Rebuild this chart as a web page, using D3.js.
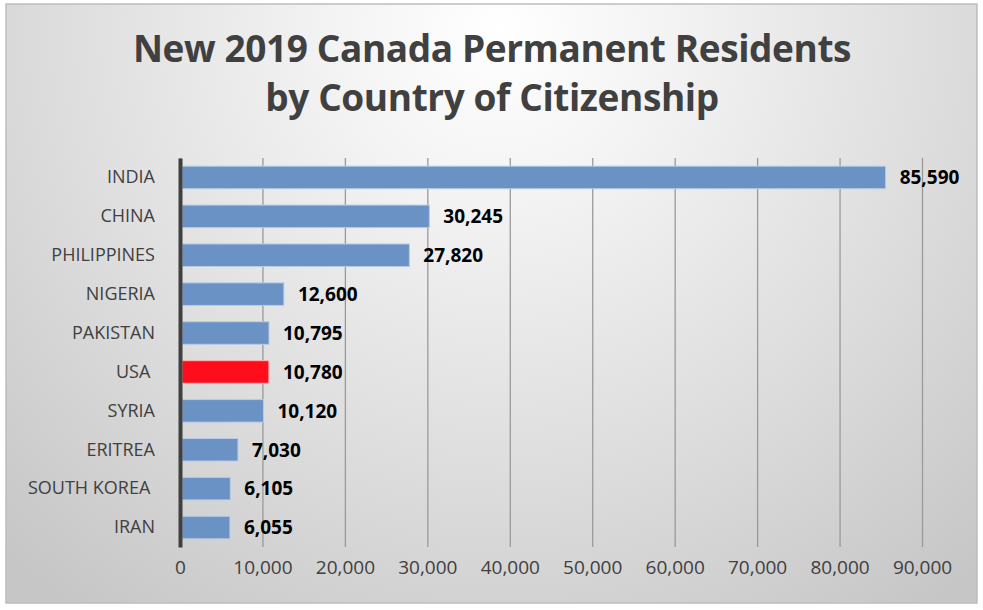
<!DOCTYPE html>
<html>
<head>
<meta charset="utf-8">
<script src="https://cdn.jsdelivr.net/npm/d3@7"></script>
<style>
  body { margin: 0; background: #fff; }
  svg text { font-family: "Open Sans", sans-serif; }
</style>
</head>
<body>
<svg id="chart"></svg>
<script>
// Data
const countries = ['INDIA', 'CHINA', 'PHILIPPINES', 'NIGERIA', 'PAKISTAN', 'USA ', 'SYRIA', 'ERITREA', 'SOUTH KOREA ', 'IRAN'];
const residents = [85590, 30245, 27820, 12600, 10795, 10780, 10120, 7030, 6105, 6055];
const highlighted = ['USA '];
const xTicks = [0, 10000, 20000, 30000, 40000, 50000, 60000, 70000, 80000, 90000];
const titleLines = ['New 2019 Canada Permanent Residents', 'by Country of Citizenship'];

function drawChart() {
    // Graph constants
    const width = 983;
    const height = 610;
    const box = { x: 6, y: 4, w: 971, h: 599 };
    const margin = { top: 158, right: 61, bottom: 63, left: 180 };
    const data = countries.map((c, i) => ({ country: c, value: residents[i] }));

    const xScale = d3.scaleLinear()
        .domain([0, 90000])
        .range([margin.left, width - margin.right]);
    const yScale = d3.scaleBand()
        .domain(countries)
        .range([margin.top, height - margin.bottom])
        .paddingInner(0.42)
        .paddingOuter(0.21);

    const svg = d3.select('#chart')
        .attr('width', width)
        .attr('height', height);

    // Background
    const defs = svg.append('defs');
    const grad = defs.append('radialGradient')
        .attr('id', 'bg')
        .attr('gradientUnits', 'userSpaceOnUse')
        .attr('cx', 500).attr('cy', 30).attr('r', 720);
    grad.append('stop').attr('offset', '0%').attr('stop-color', '#ffffff');
    grad.append('stop').attr('offset', '22%').attr('stop-color', '#f4f4f4');
    grad.append('stop').attr('offset', '60%').attr('stop-color', '#dedede');
    grad.append('stop').attr('offset', '100%').attr('stop-color', '#c6c6c6');

    svg.append('rect')
        .attr('x', box.x).attr('y', box.y)
        .attr('width', box.w).attr('height', box.h)
        .attr('fill', 'url(#bg)')
        .attr('stroke', '#bdbdbd')
        .attr('stroke-width', 1.5);

    // Title
    svg.append('g')
        .selectAll('text')
        .data(titleLines)
        .join('text')
        .attr('x', 492)
        .attr('y', (d, i) => 62 + i * 49)
        .attr('text-anchor', 'middle')
        .attr('font-size', 37)
        .attr('font-weight', 'bold')
        .attr('letter-spacing', -0.4)
        .attr('fill', '#404040')
        .text(d => d);

    // Gridlines
    const xAxis = d3.axisBottom(xScale)
        .tickValues(xTicks)
        .tickFormat(d3.format(','))
        .tickSize(-(height - margin.top - margin.bottom))
        .tickPadding(14);
    const gx = svg.append('g')
        .attr('transform', `translate(0,${height - margin.bottom})`)
        .call(xAxis);
    gx.select('.domain').remove();
    gx.selectAll('.tick line')
        .attr('stroke', '#9a9a9a')
        .attr('stroke-width', 1.3);
    gx.selectAll('.tick text')
        .attr('font-size', 19)
        .attr('fill', '#404040')
        .attr('font-family', '"Open Sans", sans-serif');

    // Bars
    svg.append('g')
        .selectAll('rect')
        .data(data)
        .join('rect')
        .attr('x', xScale(0) + 2)
        .attr('y', d => yScale(d.country))
        .attr('width', d => xScale(d.value) - xScale(0) - 2)
        .attr('height', yScale.bandwidth())
        .attr('fill', d => highlighted.includes(d.country) ? '#ff0d1a' : '#6a92c4')
        .attr('stroke', d => highlighted.includes(d.country) ? '#ffb0b4' : '#b9cce6')
        .attr('stroke-width', 1);

    // Value labels
    svg.append('g')
        .selectAll('text')
        .data(data)
        .join('text')
        .attr('x', d => xScale(d.value) + 14)
        .attr('y', d => yScale(d.country) + yScale.bandwidth() / 2)
        .attr('dy', '0.36em')
        .attr('font-size', 19)
        .attr('font-weight', 'bold')
        .attr('fill', '#000')
        .text(d => d3.format(',')(d.value));

    // Category axis
    const yAxis = d3.axisLeft(yScale)
        .tickSize(0)
        .tickPadding(25);
    const gy = svg.append('g')
        .attr('transform', `translate(${margin.left},0)`)
        .call(yAxis);
    gy.select('.domain')
        .attr('stroke', '#404040')
        .attr('stroke-width', 4);
    gy.selectAll('.tick text')
        .attr('font-size', 18)
        .attr('fill', '#404040')
        .attr('font-family', '"Open Sans", sans-serif')
        .style('white-space', 'pre');
}

drawChart();
</script>
</body>
</html>
